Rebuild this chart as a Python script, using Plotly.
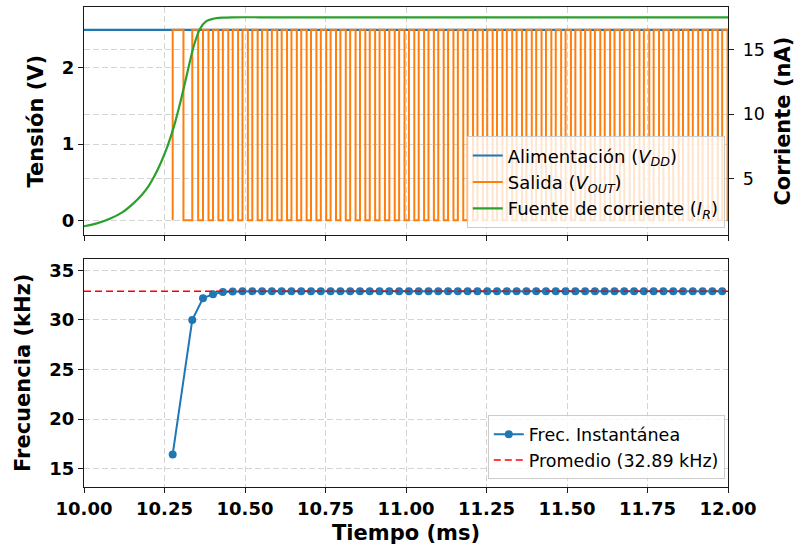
import plotly.graph_objects as go
import numpy as np

# ---------------- data ----------------
x_range = [10.0, 12.0]
x_ticks = [10.0, 10.25, 10.5, 10.75, 11.0, 11.25, 11.5, 11.75, 12.0]

vdd_t = [10.0, 12.0]
vdd_v = [2.5, 2.5]
vout_high = 2.5
vout_low = 0.0
duty = 0.55

# current source (nA)
ir_t = [10.00, 10.04, 10.08, 10.12, 10.15, 10.18, 10.20, 10.22, 10.24, 10.26,
        10.28, 10.30, 10.32, 10.34, 10.36, 10.38, 10.40, 10.43, 10.46, 10.60,
        11.00, 11.50, 12.00]
ir_i = [1.30, 1.52, 1.88, 2.40, 3.00, 3.75, 4.40, 5.25, 6.30, 7.55,
        9.10, 11.00, 13.10, 15.20, 16.60, 17.20, 17.38, 17.47, 17.50, 17.50,
        17.50, 17.50, 17.50]

# instantaneous frequency (kHz) at each rising edge
t_first_edge = 10.2754
freq = [16.44, 30.00, 32.19, 32.59, 32.82, 32.86, 32.88, 32.89, 32.89, 32.90,
        32.89, 32.89, 32.90, 32.89, 32.89, 32.89, 32.90, 32.89, 32.89, 32.89,
        32.90, 32.89, 32.89, 32.89, 32.90, 32.89, 32.89, 32.89, 32.90, 32.89,
        32.89, 32.89, 32.90, 32.89, 32.89, 32.89, 32.90, 32.89, 32.89, 32.89,
        32.90, 32.89, 32.89, 32.89, 32.90, 32.89, 32.89, 32.89, 32.90, 32.89,
        32.89, 32.89, 32.90, 32.89, 32.89, 32.89]
freq_avg = 32.89

# ---------------- derived ----------------
periods = [1.0 / f for f in freq]  # ms
rise_t = [t_first_edge]
for p in periods[:-1]:
    rise_t.append(rise_t[-1] + p)
rise_t = np.array(rise_t)

wx = [rise_t[0]]
wy = [vout_low]
for r, p in zip(rise_t, periods):
    wx += [r, r + duty * p]
    wy += [vout_high, vout_low]
wx.append(x_range[1] + 0.05)
wy.append(vout_low)

BLUE = "#1f77b4"
ORANGE = "#ff7f0e"
GREEN = "#2ca02c"
FONT = "DejaVu Sans"
GRID = "rgba(176,176,176,0.55)"

fig = go.Figure()
fig.add_trace(go.Scatter(x=vdd_t, y=vdd_v, mode="lines", line=dict(color=BLUE, width=2.2),
                         name="Alimentación (<i>V</i><sub><i>DD</i></sub>)", xaxis="x", yaxis="y",
                         legend="legend"))
fig.add_trace(go.Scatter(x=wx, y=wy, mode="lines", line=dict(color=ORANGE, width=2.0, shape="hv"),
                         name="Salida (<i>V</i><sub><i>OUT</i></sub>)", xaxis="x", yaxis="y",
                         legend="legend"))
fig.add_trace(go.Scatter(x=ir_t, y=ir_i, mode="lines", line=dict(color=GREEN, width=2.2, shape="spline", smoothing=0.8),
                         name="Fuente de corriente (<i>I</i><sub><i>R</i></sub>)", xaxis="x", yaxis="y2",
                         legend="legend"))
fig.add_trace(go.Scatter(x=rise_t, y=freq, mode="lines+markers", line=dict(color=BLUE, width=2.0),
                         marker=dict(color=BLUE, size=8), name="Frec. Instantánea",
                         xaxis="x2", yaxis="y3", legend="legend2"))
fig.add_trace(go.Scatter(x=x_range, y=[freq_avg, freq_avg], mode="lines",
                         line=dict(color="#ff0000", width=1.6, dash="7px,4px"),
                         name=f"Promedio ({freq_avg:.2f} kHz)", xaxis="x2", yaxis="y3",
                         legend="legend2"))

tick_bold = dict(family=FONT, size=18, color="black", weight="bold")
title_bold = dict(family=FONT, size=21, color="black", weight="bold")
axis_common = dict(showline=True, linecolor="#1a1a1a", linewidth=1.3, mirror=True,
                   ticks="outside", ticklen=5, tickwidth=1.2, tickcolor="#1a1a1a",
                   showgrid=True, gridcolor=GRID, griddash="6px,3px", gridwidth=1,
                   zeroline=False, automargin=False)

fig.update_layout(
    width=795, height=551,
    margin=dict(l=84, r=67, t=7, b=64),
    plot_bgcolor="white", paper_bgcolor="white",
    font=dict(family=FONT, color="black"),
    xaxis=dict(domain=[0, 1], anchor="y", range=x_range, tickvals=x_ticks,
               showticklabels=False, matches="x2", **axis_common),
    yaxis=dict(domain=[0.5244, 1], anchor="x", range=[-0.197, 2.80], tickvals=[0, 1, 2],
               tickfont=tick_bold, title=dict(text="Tensión (V)", font=title_bold, standoff=12),
               **axis_common),
    yaxis2=dict(overlaying="y", side="right", anchor="x", range=[0.60, 18.30], tickvals=[5, 10, 15],
                tickfont=dict(family=FONT, size=17.5, color="black"), ticklabelstandoff=5,
                title=dict(text="Corriente (nA)", font=title_bold, standoff=13),
                showline=True, linecolor="#1a1a1a", linewidth=1.3, automargin=False,
                ticks="outside", ticklen=5, tickwidth=1.2, tickcolor="#1a1a1a",
                showgrid=True, gridcolor=GRID, griddash="6px,3px", gridwidth=1, zeroline=False),
    xaxis2=dict(domain=[0, 1], anchor="y3", range=x_range, tickvals=x_ticks, tickformat=".2f",
                tickfont=tick_bold, title=dict(text="Tiempo (ms)", font=title_bold, standoff=7),
                **axis_common),
    yaxis3=dict(domain=[0, 0.4758], anchor="x2", range=[13.15, 36.18], tickvals=[15, 20, 25, 30, 35],
                tickfont=tick_bold, title=dict(text="Frecuencia (kHz)", font=title_bold, standoff=12),
                **axis_common),
    legend=dict(x=0.995, xanchor="right", y=0.539, yanchor="bottom",
                bgcolor="rgba(255,255,255,0.8)", bordercolor="#cccccc", borderwidth=1,
                font=dict(family=FONT, size=18, color="black")),
    legend2=dict(x=0.995, xanchor="right", y=0.016, yanchor="bottom",
                 bgcolor="rgba(255,255,255,0.8)", bordercolor="#cccccc", borderwidth=1,
                 font=dict(family=FONT, size=17.5, color="black")),
    showlegend=True,
)

fig.write_html("out.html")
